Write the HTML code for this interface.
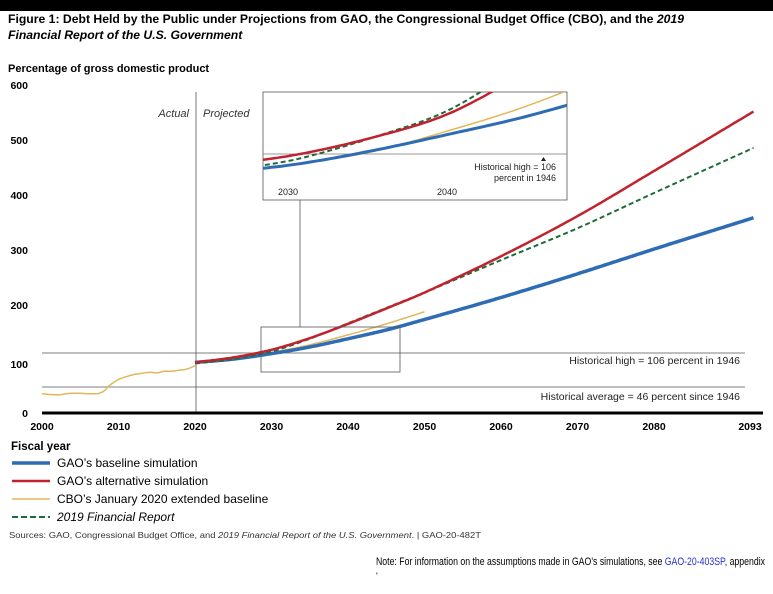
<!DOCTYPE html>
<html><head><meta charset="utf-8"><style>
body{margin:0;background:#fff;width:773px;height:589px;overflow:hidden;font-family:"Liberation Sans",sans-serif}
</style></head><body>
<svg id="s" width="773" height="589" xmlns="http://www.w3.org/2000/svg" font-family="Liberation Sans, sans-serif">
<rect x="0" y="0" width="773" height="11" fill="#000"/>
<text x="8" y="23" font-size="12.2" font-weight="bold" textLength="676" lengthAdjust="spacingAndGlyphs">Figure 1: Debt Held by the Public under Projections from GAO, the Congressional Budget Office (CBO), and the <tspan font-style="italic">2019</tspan></text>
<text x="8" y="39" font-size="12.2" font-weight="bold" font-style="italic">Financial Report of the U.S. Government</text>
<text x="8" y="72" font-size="11" font-weight="bold">Percentage of gross domestic product</text>
<g font-size="10.5" font-weight="bold" text-anchor="end">
<text x="28" y="89">600</text><text x="28" y="144">500</text><text x="28" y="199">400</text><text x="28" y="254">300</text><text x="28" y="309">200</text><text x="28" y="368">100</text><text x="28" y="417">0</text>
</g>
<line x1="196" y1="92" x2="196" y2="413" stroke="#555" stroke-width="0.8"/>
<text x="189" y="117" font-size="11" font-style="italic" fill="#333" text-anchor="end">Actual</text>
<text x="203" y="117" font-size="11" font-style="italic" fill="#333">Projected</text>
<line x1="42" y1="353" x2="745" y2="353" stroke="#555" stroke-width="0.8"/>
<line x1="42" y1="387" x2="745" y2="387" stroke="#555" stroke-width="0.8"/>
<text x="740" y="364" font-size="10.5" fill="#222" text-anchor="end">Historical high = 106 percent in 1946</text>
<text x="740" y="400" font-size="10.5" fill="#222" text-anchor="end">Historical average = 46 percent since 1946</text>
<g id="main"></g>
<line x1="42" y1="413" x2="763" y2="413" stroke="#000" stroke-width="3"/>
<g font-size="10.5" font-weight="bold" text-anchor="middle" id="xt"></g>
<rect x="261" y="327" width="139" height="45" fill="none" stroke="#555" stroke-width="0.8"/>
<line x1="300" y1="200" x2="300" y2="327" stroke="#555" stroke-width="0.8"/>
<rect x="263" y="92" width="304" height="108" fill="#fff" stroke="#555" stroke-width="0.8"/>
<clipPath id="c"><rect x="263" y="92" width="304" height="108"/></clipPath>
<line x1="263" y1="154" x2="567" y2="154" stroke="#777" stroke-width="0.8"/>
<g id="ins" clip-path="url(#c)"></g>
<text x="556" y="170" font-size="9" fill="#222" text-anchor="end">Historical high = 106</text>
<text x="556" y="181" font-size="9" fill="#222" text-anchor="end">percent in 1946</text>
<path d="M541 161 l2.5 -4 l2.5 4z" fill="#222"/>
<text x="288" y="195" font-size="9" fill="#222" text-anchor="middle">2030</text>
<text x="447" y="195" font-size="9" fill="#222" text-anchor="middle">2040</text>
<text x="11" y="450" font-size="11.5" font-weight="bold">Fiscal year</text>
<line x1="12" y1="463" x2="50" y2="463" stroke="#2e6db4" stroke-width="3.5"/>
<text x="57" y="467" font-size="12">GAO’s baseline simulation</text>
<line x1="12" y1="481" x2="50" y2="481" stroke="#c0232e" stroke-width="2.5"/>
<text x="57" y="485" font-size="12">GAO’s alternative simulation</text>
<line x1="12" y1="499" x2="50" y2="499" stroke="#e3b75a" stroke-width="1.5"/>
<text x="57" y="503" font-size="12">CBO’s January 2020 extended baseline</text>
<line x1="12" y1="517" x2="50" y2="517" stroke="#1f6b3a" stroke-width="2" stroke-dasharray="6,3"/>
<text x="57" y="521" font-size="12" font-style="italic">2019 Financial Report</text>
<text x="9" y="538" font-size="8.5" fill="#333" textLength="472" lengthAdjust="spacingAndGlyphs">Sources: GAO, Congressional Budget Office, and <tspan font-style="italic">2019 Financial Report of the U.S. Government</tspan>.  |  GAO-20-482T</text>
<text x="376" y="565" font-size="11" textLength="389" lengthAdjust="spacingAndGlyphs">Note: For information on the assumptions made in GAO’s simulations, see <tspan fill="#2233cc">GAO-20-403SP</tspan>, appendix</text>
<text x="376" y="579" font-size="9">'</text>
</svg>
<script>
var NS="http://www.w3.org/2000/svg";
function interp(d,t){for(var i=0;i<d.length-1;i++){if(t>=d[i][0]&&t<=d[i+1][0]){var a=d[i],b=d[i+1];var f=(t-a[0])/(b[0]-a[0]);
var p=d[i-1]||a,q=d[i+2]||b;var m0=(b[1]-p[1])/(b[0]-p[0]||1)*(b[0]-a[0]),m1=(q[1]-a[1])/(q[0]-a[0]||1)*(b[0]-a[0]);
var f2=f*f,f3=f2*f;return (2*f3-3*f2+1)*a[1]+(f3-2*f2+f)*m0+(-2*f3+3*f2)*b[1]+(f3-f2)*m1;}}return d[d.length-1][1];}
function line(g,d,X,Y,col,w,dash){var pts=[];for(var t=d[0][0];t<=d[d.length-1][0]+0.001;t+=0.25){pts.push(X(t).toFixed(1)+","+Y(interp(d,t)).toFixed(1));}
var p=document.createElementNS(NS,"polyline");p.setAttribute("points",pts.join(" "));p.setAttribute("fill","none");p.setAttribute("stroke",col);p.setAttribute("stroke-width",w);if(dash)p.setAttribute("stroke-dasharray",dash);g.appendChild(p);}
var hist=[[2000,35],[2002,33],[2004,36],[2007,35],[2008,39],[2009,52],[2010,61],[2011,66],[2012,70],[2013,72],[2014,74],[2015,73],[2016,76],[2017,76],[2018,78],[2019,80],[2020,86]];
var blue=[[2020,92],[2025,98],[2030,108],[2035,120],[2040,135],[2045,151],[2050,170],[2060,210],[2070,253],[2080,298],[2093,355]];
var red=[[2020,92],[2025,101],[2030,115],[2035,136],[2040,162],[2045,190],[2050,219],[2060,285],[2070,358],[2080,440],[2093,548]];
var green=[[2020,90],[2025,98],[2030,112],[2035,135],[2040,163],[2045,191],[2050,219],[2060,278],[2070,336],[2080,400],[2093,482]];
var yel=[[2020,90],[2025,98],[2030,110],[2035,124],[2040,142],[2045,162],[2050,184]];
var X=function(t){return 42+(t-2000)*7.65},Y=function(v){return 413-v*0.55};
var g=document.getElementById("main");
line(g,hist,X,Y,"#e3b75a",1.5);line(g,yel,X,Y,"#e3b75a",1.5);line(g,blue,X,Y,"#2e6db4",3.5);line(g,green,X,Y,"#1f6b3a",2,"5,3");line(g,red,X,Y,"#c0232e",2.5);
var Xi=function(t){return 300+(t-2030)*14.7},Yi=function(v){return 154-(v-106)*0.88};
var iB=[[2026,87],[2030,95],[2035,110],[2040,128],[2045,147],[2050,170]];
var iY=[[2026,86],[2030,95],[2035,109],[2040,132],[2045,158],[2050,190]];
var iR=[[2026,96],[2030,106],[2035,125],[2040,151],[2045,195],[2048,225]];
var iG=[[2026,89],[2030,101],[2035,125],[2040,155],[2045,205],[2048,235]];
var gi=document.getElementById("ins");
line(gi,iY,Xi,Yi,"#e3b75a",1.5);line(gi,iB,Xi,Yi,"#2e6db4",3);line(gi,iG,Xi,Yi,"#1f6b3a",2,"5,3");line(gi,iR,Xi,Yi,"#c0232e",2.5);
var xt=document.getElementById("xt");[2000,2010,2020,2030,2040,2050,2060,2070,2080].forEach(function(y){var t=document.createElementNS(NS,"text");t.setAttribute("x",X(y));t.setAttribute("y",430);t.textContent=y;xt.appendChild(t);});
var t=document.createElementNS(NS,"text");t.setAttribute("x",750);t.setAttribute("y",430);t.textContent="2093";xt.appendChild(t);
</script>
</body></html>
